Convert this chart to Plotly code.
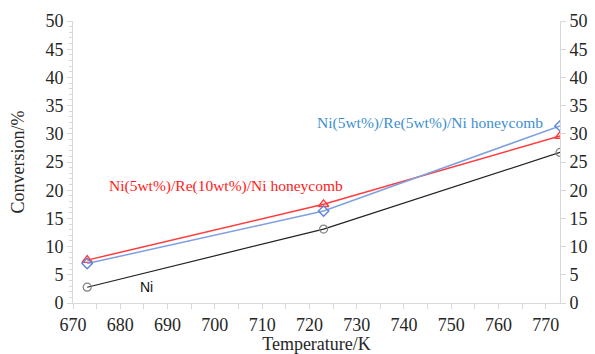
import plotly.graph_objects as go

temps = [673, 723, 773]
ni = [2.8, 13.1, 26.7]
ni_re10 = [7.6, 17.5, 29.6]
ni_re5 = [7.0, 16.3, 31.4]

x_ticks = list(range(670, 771, 10))
y_ticks = list(range(0, 51, 5))

AX = "#d9d9d9"
SERIF = "Liberation Serif"

fig = go.Figure()
fig.add_trace(go.Scatter(x=temps, y=ni, mode="lines+markers",
                         line=dict(color="#222222", width=1.2),
                         marker=dict(symbol="circle-open", size=8, color="#808080", line=dict(width=1.2)),
                         name="Ni"))
fig.add_trace(go.Scatter(x=temps, y=ni_re10, mode="lines+markers",
                         line=dict(color="#ff3b3b", width=1.5),
                         marker=dict(symbol="triangle-up-open", size=9, color="#ff3b3b", line=dict(width=1.4)),
                         name="Ni(5wt%)/Re(10wt%)/Ni honeycomb"))
fig.add_trace(go.Scatter(x=temps, y=ni_re5, mode="lines+markers",
                         line=dict(color="#7f9fe0", width=1.5),
                         marker=dict(symbol="diamond-open", size=8, color="#5b84d8", line=dict(width=1.4)),
                         name="Ni(5wt%)/Re(5wt%)/Ni honeycomb"))
# invisible trace to carry the mirrored right axis
fig.add_trace(go.Scatter(x=[temps[0]], y=[0], yaxis="y2", mode="markers",
                         marker=dict(opacity=0), showlegend=False, hoverinfo="skip"))

fig.update_layout(
    width=595, height=354,
    margin=dict(l=73, r=35, t=21, b=51),
    plot_bgcolor="white", paper_bgcolor="white",
    showlegend=False,
    font=dict(family=SERIF, size=18, color="#262626"),
    xaxis=dict(range=[670, 773], tickvals=x_ticks, showgrid=False, zeroline=False,
               automargin=False,
               showline=True, linecolor=AX, linewidth=1,
               ticks="outside", ticklen=5, tickcolor=AX,
               tickfont=dict(family=SERIF, size=18),
               minor=dict(dtick=5, tick0=670, ticks="outside", ticklen=5, tickcolor=AX),
               title=dict(text="Temperature/K", standoff=0, font=dict(family=SERIF, size=18))),
    yaxis=dict(range=[0, 50], tickvals=y_ticks, showgrid=False, zeroline=False,
               automargin=False,
               showline=True, linecolor=AX, linewidth=1,
               ticks="outside", ticklen=5, tickcolor=AX,
               tickfont=dict(family=SERIF, size=18),
               minor=dict(dtick=1, ticks="outside", ticklen=3, tickcolor=AX),
               title=dict(text="Conversion/%", standoff=16, font=dict(family=SERIF, size=18))),
    yaxis2=dict(range=[0, 50], tickvals=y_ticks, overlaying="y", side="right",
                automargin=False,
                showgrid=False, zeroline=False, showline=True, linecolor=AX, linewidth=1,
                tickfont=dict(family=SERIF, size=18),
                ticks="outside", ticklen=5, tickcolor=AX),
    annotations=[
        dict(x=702.3, y=20.7, xref="x", yref="y", text="Ni(5wt%)/Re(10wt%)/Ni honeycomb",
             showarrow=False, font=dict(family=SERIF, size=15.5, color="#ff2020")),
        dict(x=745.5, y=32.0, xref="x", yref="y", text="Ni(5wt%)/Re(5wt%)/Ni honeycomb",
             showarrow=False, font=dict(family=SERIF, size=15.5, color="#3d8fd1")),
        dict(x=685.6, y=2.8, xref="x", yref="y", text="Ni",
             showarrow=False, font=dict(family="Liberation Sans", size=14, color="#111111")),
    ],
)

fig.write_html("out.html")
